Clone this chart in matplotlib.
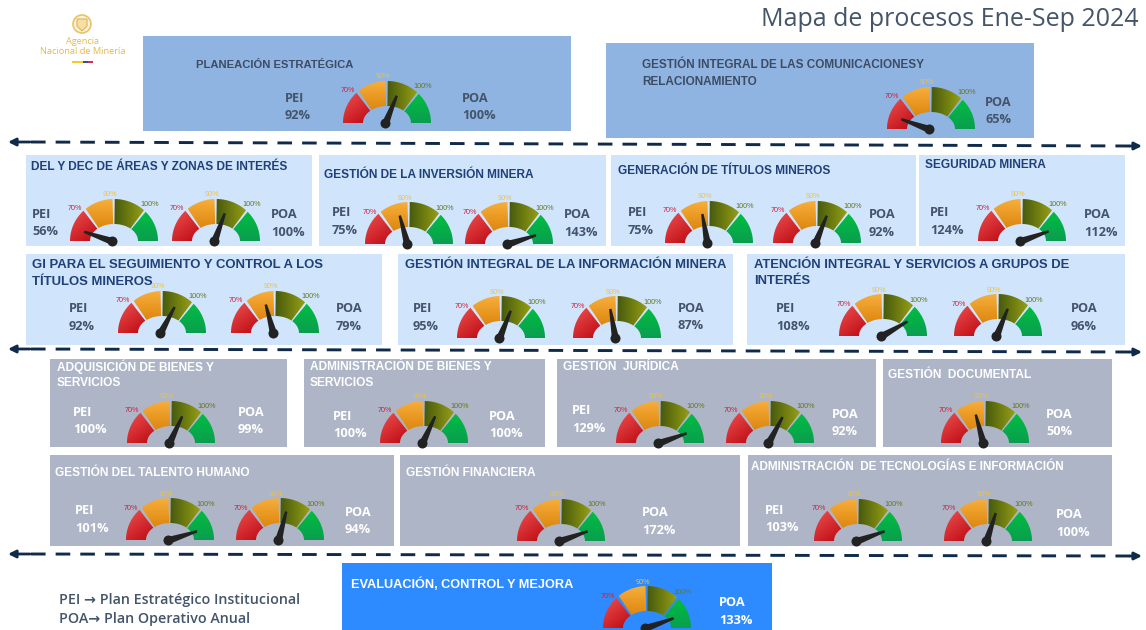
import numpy as np
import matplotlib
matplotlib.use("Agg")
import matplotlib.pyplot as plt
from matplotlib.patches import Polygon, Rectangle, Circle
from matplotlib.colors import to_rgb

# ---- content
titles = [
    ["PLANEACIÓN ESTRATÉGICA"],
    ["GESTIÓN INTEGRAL DE LAS COMUNICACIONESY", "RELACIONAMIENTO"],
    ["DEL Y DEC DE ÁREAS Y ZONAS DE INTERÉS"],
    ["GESTIÓN DE LA INVERSIÓN MINERA"],
    ["GENERACIÓN DE TÍTULOS MINEROS"],
    ["SEGURIDAD MINERA"],
    ["GI PARA EL SEGUIMIENTO Y CONTROL A LOS", "TÍTULOS MINEROS"],
    ["GESTIÓN INTEGRAL DE LA INFORMACIÓN MINERA"],
    ["ATENCIÓN INTEGRAL Y SERVICIOS A GRUPOS DE", "INTERÉS"],
    ["ADQUISICIÓN DE BIENES Y", "SERVICIOS"],
    ["ADMINISTRACIÓN DE BIENES Y", "SERVICIOS"],
    ["GESTIÓN  JURÍDICA"],
    ["GESTIÓN  DOCUMENTAL"],
    ["GESTIÓN DEL TALENTO HUMANO"],
    ["GESTIÓN FINANCIERA"],
    ["ADMINISTRACIÓN  DE TECNOLOGÍAS E INFORMACIÓN"],
    ["EVALUACIÓN, CONTROL Y MEJORA"],
]
pei_values = [92, None, 56, 75, 75, 124, 92, 95, 108, 100, 100, 129, None, 101, None, 103, None]
poa_values = [100, 65, 100, 143, 92, 112, 79, 87, 96, 99, 100, 92, 50, 94, 172, 100, 133]
# needle direction of every gauge in each panel, degrees
needle_deg = [[68], [160], [161, 70], [105, 18], [100, 68], [20], [62, 105], [68, 100],
              [30, 68], [65], [65], [20, 62], [105], [18, 75], [20], [20, 72], [20]]
gauge_ticks = ["70%", "90%", "100%"]
main_title = "Mapa de procesos Ene-Sep 2024"
legend_lines = ["PEI → Plan Estratégico Institucional", "POA→ Plan Operativo Anual"]
logo_lines = ["Agencia", "Nacional de Minería"]

# ---- layout (pixels)
rects = [(143, 36, 428, 95), (606, 43, 428, 95),
         (26, 155, 286, 91), (319, 155, 287, 91), (611, 155, 305, 91), (919, 155, 206, 91),
         (26, 254, 356, 91), (398, 254, 335, 91), (747, 254, 378, 91),
         (50, 359, 237, 88), (304, 359, 241, 88), (557, 359, 319, 88), (883, 359, 229, 88),
         (50, 455, 344, 91), (400, 455, 340, 91), (748, 455, 364, 91),
         (342, 563, 430, 67)]
fills = ["#8FB4E1"] * 2 + ["#D0E4FC"] * 7 + ["#ADB5C6"] * 7 + ["#2E8BFF"]
title_color = ["#3D4C63"] * 2 + ["#1F4078"] * 7 + ["#FFFFFF"] * 8
title_size = [8.15, 8.5, 8.6, 8.6, 8.6, 8.6, 9.45, 9.4, 9.4, 8.6, 8.6, 8.6, 8.55, 8.55, 8.55, 8.5, 9.2]
value_color = ["#44546A"] * 2 + ["#44546A"] * 7 + ["#FFFFFF"] * 8
title_xy = [(196, 64.5), (642, 65.5), (31, 167.5), (324, 175.5), (618, 171.5), (925, 164.5),
            (32, 265.5), (405, 265.5), (754, 264.5), (57, 367), (310, 367), (563, 367),
            (888, 375), (55, 473.5), (406, 473.5), (751, 466.5), (351, 584.5)]
pei_xy = [(285, 98), None, (32, 214), (332, 213), (628, 213), (930, 213), (69, 309), (413, 309),
          (776, 309), (73, 412), (333, 416), (572, 411), None, (75, 511), None, (765, 510), None]
poa_xy = [(462, 98), (985, 102), (271, 215), (564, 215), (869, 215), (1084, 215), (336, 309),
          (678, 308), (1071, 309), (238, 412), (489, 416), (832, 414), (1046, 414), (345, 512),
          (642, 513), (1056, 515), (719, 603)]
gauge_xy = [[(387, 123)], [(931, 129)], [(114, 241), (216, 241)], [(409, 244), (509, 244)],
            [(709, 243), (817, 243)], [(1022, 241)], [(162, 333), (275, 333)],
            [(501, 338), (617, 338)], [(883, 336), (998, 336)], [(171, 443)], [(424, 443)],
            [(660, 443), (770, 443)], [(985, 443)], [(170, 540), (280, 540)], [(561, 541)],
            [(858, 541), (988, 541)], [(647, 628)]]
arrows = [((8, 142), (1142, 146)), ((8, 349), (1142, 352)), ((8, 554), (1142, 556))]

SANS = ["Liberation Sans", "DejaVu Sans"]
OPEN = ["Open Sans", "DejaVu Sans"]

fig = plt.figure(figsize=(11.46, 6.30), dpi=100)
ax = fig.add_axes([0, 0, 1, 1])


def gradient(c0, c1, direction, n=24):
    gy, gx = np.mgrid[0:1:n * 1j, 0:1:n * 1j]
    t = np.clip(gx * direction[0] + gy * direction[1], 0, 1)[..., None]
    return (1 - t) * np.array(to_rgb(c0)) + t * np.array(to_rgb(c1))


SEGMENTS = [
    (180, 134, "#EE5050", "#BC0A12", (0.4, 0.6)),
    (130, 92, "#F7AE3A", "#DD8710", (0.0, 1.0)),
    (89, 47, "#485A0E", "#949E14", (1.0, 0.0)),
    (44, 0, "#00BE40", "#0A9E50", (0.0, 1.0)),
]
TICK_OFF = [(-39, -32, "#D0203C"), (-4, -46, "#F2C23A"), (36, -36, "#66761E")]


def draw_gauge(cx, cy, angle, Rx=44, Ry=42, rx=24, ry=17):
    for a0, a1, c0, c1, d in SEGMENTS:
        th = np.radians(np.linspace(a0, a1, 40))
        xs = np.r_[cx + Rx * np.cos(th), cx + rx * np.cos(th[::-1])]
        ys = np.r_[cy - Ry * np.sin(th), cy - ry * np.sin(th[::-1])]
        poly = Polygon(np.c_[xs, ys], closed=True, fc="none", ec="none", zorder=3)
        ax.add_patch(poly)
        im = ax.imshow(gradient(c0, c1, d), extent=(xs.min(), xs.max(), ys.max(), ys.min()),
                       aspect="auto", interpolation="bilinear", zorder=3)
        im.set_clip_path(poly)
    for (dx, dy, col), lab in zip(TICK_OFF, gauge_ticks):
        ax.text(cx + dx, cy + dy, lab, color=col, fontsize=5.2, ha="center", va="center",
                family=SANS, zorder=4)
    # needle
    t = np.radians(angle)
    ux, uy = np.cos(t), -np.sin(t)
    nx, ny = -uy, ux
    L = 30
    hx, hy = cx - 1.5, cy + 0.5
    pts = [(hx + nx * 3.6, hy + ny * 3.6), (hx + ux * L + nx * 1.2, hy + uy * L + ny * 1.2),
           (hx + ux * L - nx * 1.2, hy + uy * L - ny * 1.2), (hx - nx * 3.6, hy - ny * 3.6)]
    ax.add_patch(Polygon(pts, closed=True, fc="#222222", ec="none", zorder=5))
    ax.add_patch(Circle((hx, hy), 5, fc="#222222", ec="none", zorder=5))


for i, (x, y, w, h) in enumerate(rects):
    ax.add_patch(Rectangle((x, y), w, h, fc=fills[i], ec="none", zorder=1))
    tx, ty = title_xy[i]
    for k, line in enumerate(titles[i]):
        ax.text(tx, ty + k * 16.5, line, color=title_color[i], fontsize=title_size[i], fontweight="bold",
                ha="left", va="center", family=SANS, zorder=4)
    for lab, val, xy in (("PEI", pei_values[i], pei_xy[i]), ("POA", poa_values[i], poa_xy[i])):
        if val is None:
            continue
        ax.text(xy[0], xy[1], lab, color=value_color[i], fontsize=9.2, fontweight="bold",
                ha="left", va="center", family=OPEN, zorder=4)
        ax.text(xy[0], xy[1] + 17.5, f"{val}%", color=value_color[i], fontsize=9.2,
                fontweight="bold", ha="left", va="center", family=OPEN, zorder=4)
    for (cx, cy), ang in zip(gauge_xy[i], needle_deg[i]):
        draw_gauge(cx, cy, ang)

# dashed double arrows
for (p0, p1) in arrows:
    ax.plot([p0[0] + 23, p1[0] - 10], [p0[1], p1[1]], color="#0F2A4A", lw=2.1,
            dashes=(5.0, 3.45), dash_capstyle="butt", zorder=2)
    for a, b in ((p0, (p0[0] + 22, p0[1])), (p1, (p1[0] - 12, p1[1]))):
        ax.annotate("", xy=a, xytext=b, zorder=2,
                    arrowprops=dict(arrowstyle="-|>", color="#0F2A4A", lw=2, mutation_scale=11,
                                    shrinkA=0, shrinkB=0))

# page title
ax.text(1139, 20, main_title, color="#44546A", fontsize=18, ha="right", va="center", family=OPEN)

# logo
ax.add_patch(Circle((82, 24), 9, fc="#FBF1D8", ec="#E8C36A", lw=1.2))
ax.add_patch(Polygon([(77, 19), (87, 19), (87, 26), (82, 31), (77, 26)], closed=True,
                     fc="#F5DFA4", ec="#E0B454", lw=0.8))
ax.text(82.5, 42, logo_lines[0], color="#E8B84A", fontsize=6.6, ha="center", va="center", family=OPEN)
ax.text(82.5, 52, logo_lines[1], color="#E8B84A", fontsize=6.7, ha="center", va="center", family=OPEN)
for x0, x1, c in ((72, 83, "#F5C518"), (83, 88, "#1F3F8C"), (88, 93, "#C8203C")):
    ax.plot([x0, x1], [61.5, 61.5], color=c, lw=1.3, solid_capstyle="butt")

# legend
ax.text(59, 600, legend_lines[0], color="#44546A", fontsize=10.3, fontweight="semibold",
        ha="left", va="center", family=OPEN)
ax.text(59, 619, legend_lines[1], color="#44546A", fontsize=10.3, fontweight="semibold",
        ha="left", va="center", family=OPEN)

ax.set_xlim(0, 1146)
ax.set_ylim(630, 0)
ax.set_aspect("auto")
ax.axis("off")
fig.savefig("out.png", dpi=100, facecolor="white")
